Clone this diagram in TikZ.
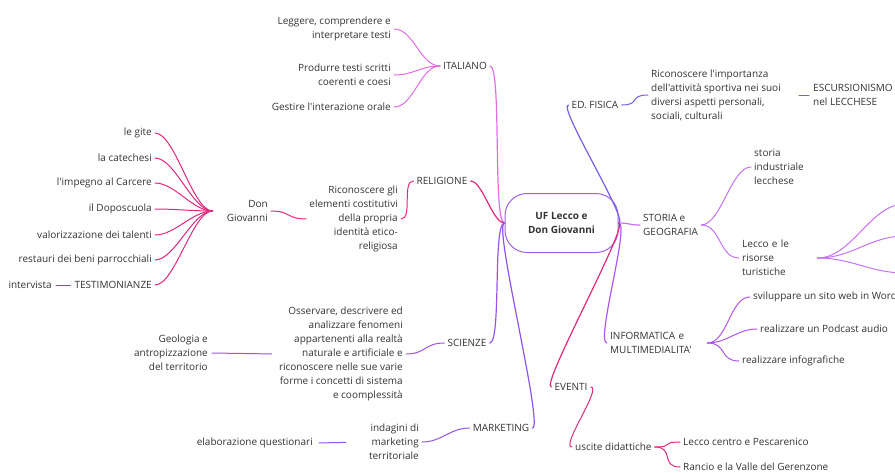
\documentclass[tikz,border=0pt]{standalone}
\usepackage{fontspec}
\setmainfont{Open Sans}[Ligatures=TeXOff]
\definecolor{ink}{HTML}{333333}
\definecolor{cCen}{HTML}{9D5FE8}
\definecolor{cIta}{HTML}{E36BE3}
\definecolor{cRel}{HTML}{E0287D}
\definecolor{cSci}{HTML}{9A55E6}
\definecolor{cMkt}{HTML}{8E55E8}
\definecolor{cEdf}{HTML}{7C5CE6}
\definecolor{cSto}{HTML}{C473F2}
\definecolor{cInf}{HTML}{B055EE}
\definecolor{cEve}{HTML}{E02A7A}
\tikzset{
  txt/.style={font=\fontsize{10}{14}\selectfont, text=ink, inner sep=3pt},
  lft/.style={txt, anchor=east, align=right},
  rgt/.style={txt, anchor=west, align=left},
  link/.style={line width=1pt, line cap=round},
  trunk/.style={line width=1.2pt, line cap=round},
  brl/.style={out=180, in=0, distance=12pt},
  brr/.style={out=0, in=180, distance=12pt},
  sbl/.style={out=180, in=0, distance=20pt},
  sbr/.style={out=0, in=180, distance=20pt},
}
\begin{document}
\begin{tikzpicture}[x=1pt,y=-1pt]
\path[use as bounding box] (0,0) rectangle (895,472);
\clip (0,0) rectangle (895,472);

\node[txt, draw=cCen, line width=1pt, rounded corners=22pt, minimum width=113pt,
  minimum height=59pt, align=center, font=\fontsize{10}{14}\selectfont\bfseries]
  (uf) at (561.5,223) {UF Lecco e\\Don Giovanni};

\node[txt] (ita) at (465,66) {ITALIANO};
\node[txt] (rel) at (442,181) {RELIGIONE};
\node[txt] (sci) at (467,343) {SCIENZE};
\node[txt] (mkt) at (501,428) {MARKETING};
\node[txt] (efi) at (595,105) {ED. FISICA};
\node[rgt] (sto) at (640,225) {STORIA e\\GEOGRAFIA};
\node[rgt, text width=94pt] (inf) at (607,343) {INFORMATICA e\\MULTIMEDIALITA'};
\node[txt] (eve) at (571,387) {EVENTI};

\node[lft] (it1) at (394,29) {Leggere, comprendere e\\interpretare testi};
\node[lft] (it2) at (394,75) {Produrre testi scritti\\coerenti e coesi};
\node[lft] (it3) at (394,107) {Gestire l'interazione orale};

\node[lft] (rel1) at (401,219) {Riconoscere gli\\elementi costitutivi\\della propria\\identità etico-\\religiosa};
\node[lft, text width=52pt] (don) at (271,211) {Don\\Giovanni};
\node[lft] (dg1) at (155,133) {le gite};
\node[lft] (dg2) at (155,158) {la catechesi};
\node[lft] (dg3) at (155,183) {l'impegno al Carcere};
\node[lft] (dg4) at (155,209) {il Doposcuola};
\node[lft] (dg5) at (155,235) {valorizzazione dei talenti};
\node[lft] (dg6) at (155,260) {restauri dei beni parrocchiali};
\node[lft] (dg7) at (155,285) {TESTIMONIANZE};
\node[lft] (int) at (55,285) {intervista};

\node[lft] (sc1) at (406,354) {Osservare, descrivere ed\\analizzare fenomeni\\appartenenti alla realtà\\naturale e artificiale e\\riconoscere nelle sue varie\\forme i concetti di sistema\\e coomplessità};
\node[lft] (geo) at (211,353) {Geologia e\\antropizzazione\\del territorio};

\node[lft] (mk1) at (422,442) {indagini di\\marketing\\territoriale};
\node[lft] (elq) at (316,443) {elaborazione questionari};

\node[rgt] (ef1) at (648,95) {Riconoscere l'importanza\\dell'attività sportiva nei suoi\\diversi aspetti personali,\\sociali, culturali};
\node[rgt] (esc) at (810,95) {ESCURSIONISMO\\nel LECCHESE};

\node[rgt] (st1) at (751,167) {storia\\industriale\\lecchese};
\node[rgt, text width=72pt] (st2) at (739,258) {Lecco e le\\risorse\\turistiche};
\coordinate (f1) at (905,204);
\coordinate (f2) at (905,236);
\coordinate (f3) at (905,273);

\node[rgt] (in1) at (750,297) {sviluppare un sito web in Word};
\node[rgt] (in2) at (757,329) {realizzare un Podcast audio};
\node[rgt] (in3) at (739,361) {realizzare infografiche};

\node[rgt] (usc) at (572,447) {uscite didattiche};
\node[rgt] (ev1) at (680,442) {Lecco centro e Pescarenico};
\node[rgt] (ev2) at (680,467) {Rancio e la Valle del Gerenzone};

\draw[trunk, cIta] (uf.west) to[brl] (ita.east);
\draw[trunk, cRel] (uf.west) to[brl] (rel.east);
\draw[trunk, cSci] (uf.west) to[brl] (sci.east);
\draw[trunk, cMkt] (uf.west) to[brl] (mkt.east);
\draw[trunk, cEdf] (uf.east) to[brr] (efi.west);
\draw[trunk, cSto] (uf.east) to[brr] (sto.west);
\draw[trunk, cInf] (uf.east) to[brr] (inf.west);
\draw[trunk, cEve] (uf.east) to[brr] (eve.west);

\foreach \n in {it1,it2,it3}
  \draw[link, cIta] (ita.west) to[sbl] (\n.east);
\draw[link, cRel] (rel.west) to[brl] (rel1.east);
\draw[link, cRel] (rel1.west) to[sbl] (don.east);
\foreach \n in {dg1,dg2,dg3,dg4,dg5,dg6,dg7}
  \draw[link, cRel] (don.west) to[sbl] (\n.east);
\draw[link, cRel, shorten <=1pt, shorten >=1pt] (dg7.west) -- (int.east);

\draw[link, cSci] (sci.west) to[sbl] (sc1.east);
\draw[link, cSci, shorten <=4pt, shorten >=1pt] (sc1.west) -- (geo.east);
\draw[link, cMkt] (mkt.west) to[sbl] (mk1.east);
\draw[link, cMkt, shorten <=20pt, shorten >=3pt] (mk1.west) -- (elq.east);

\draw[link, cEdf] (efi.east) to[sbr] (ef1.west);
\draw[link, cEdf, shorten <=15pt, shorten >=1pt] (ef1.east) -- (esc.west);
\draw[link, cSto] (sto.east) to[sbr] (st1.west);
\draw[link, cSto] (sto.east) to[sbr] (st2.west);
\foreach \n in {f1,f2,f3}
  \draw[link, cSto] (st2.east) to[out=0, in=180, distance=35pt] (\n);
\foreach \n in {in1,in2,in3}
  \draw[link, cInf] (inf.east) to[sbr] (\n.west);
\draw[link, cEve] (eve.east) to[brr] (usc.west);
\foreach \n in {ev1,ev2}
  \draw[link, cEve] (usc.east) to[sbr] (\n.west);
\end{tikzpicture}
\end{document}
